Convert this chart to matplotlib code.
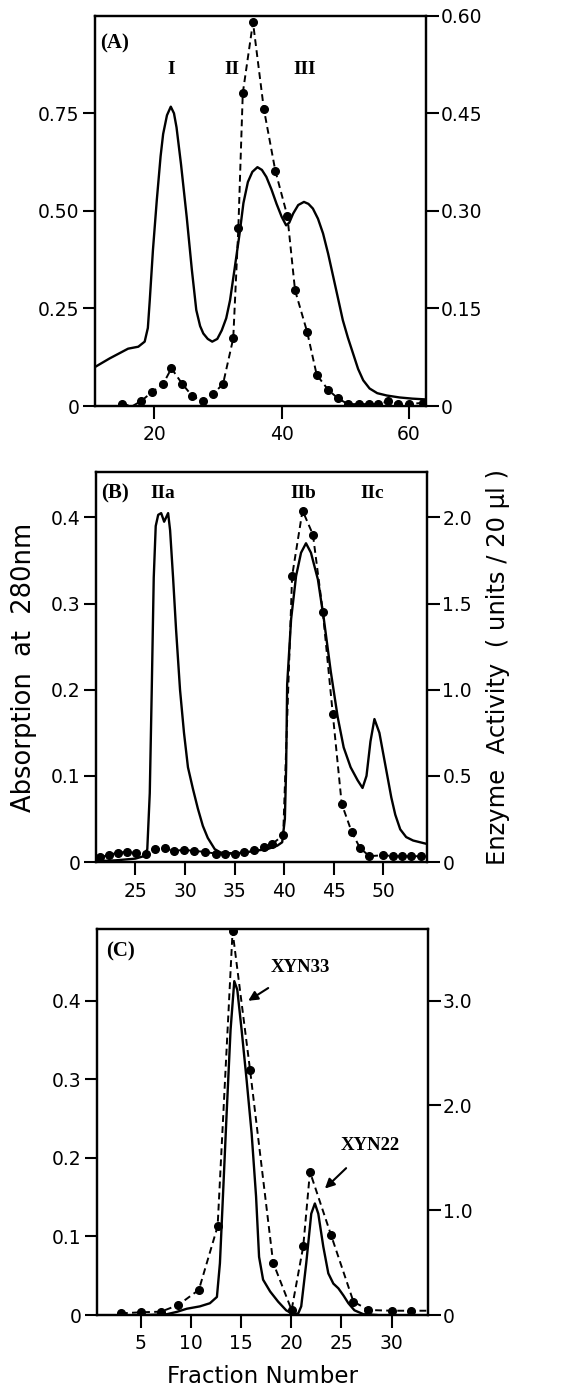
import matplotlib
matplotlib.use("Agg")
import matplotlib.pyplot as plt

# ---------------- Panel A data ----------------
a_abs_x = [10.7, 13.0, 15.9, 17.5, 18.5, 19.0, 19.3, 19.8, 20.4, 21.0, 21.4, 22.0, 22.6, 23.1, 23.5, 24.2,
           25.1, 25.9, 26.6, 27.2, 27.7, 28.4, 29.1, 29.9, 30.6, 31.3, 31.9, 32.6, 33.4, 34.0, 34.7,
           35.4, 36.2, 36.9, 37.6, 38.4, 39.2, 40.0, 40.7, 41.2, 41.8, 42.6, 43.5, 44.2, 44.9, 45.7,
           46.5, 47.3, 48.1, 48.9, 49.6, 50.4, 51.2, 52.0, 52.8, 53.8, 55.0, 56.5, 58.5, 60.5, 62.6]
a_abs_y = [0.100, 0.122, 0.147, 0.152, 0.165, 0.200, 0.271, 0.400, 0.527, 0.640, 0.697, 0.745, 0.767, 0.750, 0.714, 0.620,
           0.484, 0.350, 0.246, 0.205, 0.186, 0.172, 0.165, 0.172, 0.194, 0.225, 0.271, 0.350, 0.442, 0.520, 0.574,
           0.600, 0.612, 0.605, 0.587, 0.555, 0.518, 0.485, 0.463, 0.470, 0.493, 0.515, 0.523, 0.518, 0.506, 0.480,
           0.442, 0.390, 0.331, 0.272, 0.220, 0.175, 0.135, 0.095, 0.066, 0.045, 0.033, 0.027, 0.022, 0.019, 0.017]
a_act_x = [14.9, 16.6, 18.0, 19.7, 21.4, 22.7, 24.4, 26.0, 27.7, 29.3, 30.8, 32.4, 33.2, 33.9, 35.5, 37.2,
           39.0, 40.9, 42.1, 44.0, 45.5, 47.3, 48.8, 50.4, 52.1, 53.7, 55.1, 56.7, 58.2, 60.0, 62.2]
a_act_y = [0.003, 0.0, 0.008, 0.022, 0.034, 0.058, 0.034, 0.015, 0.007, 0.019, 0.034, 0.104, 0.273, 0.481, 0.590, 0.457,
           0.362, 0.292, 0.178, 0.114, 0.048, 0.025, 0.012, 0.003, 0.003, 0.003, 0.003, 0.007, 0.003, 0.003, 0.005]
a_act_markers = [0, 2, 3, 4, 5, 6, 7, 8, 9, 10, 11, 12, 13, 14, 15, 16, 17, 18, 19, 20, 21, 22, 23, 24, 25, 26, 27, 28, 29, 30]
a_xticks = [20, 40, 60]
a_left_ticks = [0, 0.25, 0.50, 0.75]
a_left_labels = ["0", "0.25", "0.50", "0.75"]
a_right_ticks = [0, 0.15, 0.30, 0.45, 0.60]
a_right_labels = ["0", "0.15", "0.30", "0.45", "0.60"]
a_peak_labels = ["I", "II", "III"]

# ---------------- Panel B data ----------------
b_abs_x = [21.1, 23.0, 25.0, 25.9, 26.2, 26.45, 26.65, 26.85, 27.05, 27.3, 27.6, 27.9, 28.1, 28.3, 28.5,
           28.8, 29.1, 29.5, 29.9, 30.3, 30.8, 31.3, 31.8, 32.3, 33.0, 33.6, 35.0, 36.0, 37.0, 38.3,
           39.3, 39.8, 40.07, 40.2, 40.3, 40.7, 41.2, 41.7, 42.2, 42.7, 43.4, 44.0, 44.7, 45.4, 46.0,
           46.7, 47.4, 47.9, 48.3, 48.7, 49.1, 49.6, 50.0, 50.4, 50.8, 51.2, 51.7, 52.3, 53.0, 54.4]
b_abs_y = [0.001, 0.002, 0.004, 0.007, 0.015, 0.08, 0.20, 0.33, 0.39, 0.403, 0.405, 0.395, 0.400, 0.405, 0.385,
           0.330, 0.270, 0.200, 0.150, 0.110, 0.085, 0.062, 0.042, 0.028, 0.015, 0.011, 0.010, 0.011, 0.013, 0.015,
           0.019, 0.023, 0.050, 0.110, 0.206, 0.282, 0.332, 0.359, 0.370, 0.359, 0.328, 0.282, 0.221, 0.168, 0.133,
           0.110, 0.095, 0.086, 0.100, 0.140, 0.166, 0.150, 0.125, 0.100, 0.075, 0.055, 0.038, 0.029, 0.025, 0.021]
b_act_x = [21.4, 22.3, 23.2, 24.2, 25.1, 26.1, 27.0, 28.0, 28.9, 29.9, 30.9, 32.0, 33.1, 34.0, 35.0, 36.0,
           37.0, 38.0, 38.8, 39.9, 40.8, 41.85, 42.9, 43.9, 44.9, 45.8, 46.8, 47.65, 48.6, 50.0, 51.0,
           51.9, 52.8, 53.8]
b_act_y = [0.028, 0.040, 0.055, 0.059, 0.055, 0.045, 0.075, 0.079, 0.065, 0.071, 0.065, 0.059, 0.049, 0.049, 0.049, 0.059,
           0.069, 0.089, 0.105, 0.156, 1.66, 2.04, 1.90, 1.45, 0.86, 0.338, 0.176, 0.081, 0.034, 0.040, 0.034,
           0.034, 0.034, 0.034]
b_xticks = [25, 30, 35, 40, 45, 50]
b_left_ticks = [0, 0.1, 0.2, 0.3, 0.4]
b_left_labels = ["0", "0.1", "0.2", "0.3", "0.4"]
b_right_ticks = [0, 0.5, 1.0, 1.5, 2.0]
b_right_labels = ["0", "0.5", "1.0", "1.5", "2.0"]
b_peak_labels = ["IIa", "IIb", "IIc"]

# ---------------- Panel C data ----------------
c_abs_x = [5.6, 7.6, 8.6, 9.6, 10.9, 11.9, 12.6, 12.9, 13.2, 13.57, 13.96, 14.33, 14.63, 15.06, 15.56,
           16.06, 16.5, 16.8, 17.2, 17.9, 18.7, 19.5, 20.2, 20.7, 21.0, 21.5, 22.0, 22.36, 22.7, 23.2,
           23.7, 24.2, 24.7, 25.2, 25.7, 26.3, 27.2, 28.5]
c_abs_y = [0.000, 0.001, 0.004, 0.008, 0.011, 0.015, 0.023, 0.066, 0.151, 0.257, 0.363, 0.425, 0.414, 0.363, 0.299,
           0.231, 0.151, 0.074, 0.045, 0.030, 0.017, 0.006, 0.001, 0.002, 0.011, 0.066, 0.129, 0.142, 0.129, 0.087,
           0.053, 0.040, 0.034, 0.025, 0.015, 0.006, 0.001, 0.000]
c_act_x = [3.04, 5.0, 7.03, 8.75, 10.8, 12.67, 14.16, 15.9, 18.2, 20.04, 21.2, 21.87, 23.96, 26.2, 27.7, 30.0, 31.9, 33.6]
c_act_y = [0.016, 0.026, 0.032, 0.096, 0.24, 0.846, 3.66, 2.34, 0.50, 0.048, 0.654, 1.366, 0.766, 0.128, 0.048, 0.041, 0.041, 0.041]
c_act_markers = list(range(17))
c_xticks = [5, 10, 15, 20, 25, 30]
c_left_ticks = [0, 0.1, 0.2, 0.3, 0.4]
c_left_labels = ["0", "0.1", "0.2", "0.3", "0.4"]
c_right_ticks = [0, 1.0, 2.0, 3.0]
c_right_labels = ["0", "1.0", "2.0", "3.0"]
c_annotations = ["XYN33", "XYN22"]

# ---------------- styling ----------------
plt.rcParams['font.family'] = ['DejaVu Sans']
SERIF = ['Liberation Serif', 'DejaVu Serif']
TICK_FS = 13.5
LW_SPINE = 1.6

fig = plt.figure(figsize=(5.67, 13.92), dpi=100)

def style(ax, ax2, xlim, xticks, lticks, llabels, lylim, rticks, rlabels, rylim):
    ax.set_xlim(*xlim)
    ax.set_ylim(*lylim)
    ax2.set_ylim(*rylim)
    ax.set_xticks(xticks)
    ax.set_xticklabels([str(t) for t in xticks])
    ax.set_yticks(lticks)
    ax.set_yticklabels(llabels)
    ax2.set_yticks(rticks)
    ax2.set_yticklabels(rlabels)
    for a in (ax, ax2):
        for s in a.spines.values():
            s.set_linewidth(LW_SPINE)
        a.tick_params(direction='out', length=9, width=1.5, labelsize=TICK_FS, pad=2)
    ax.tick_params(axis='x', pad=5)

def draw_solid(ax, x, y):
    ax.plot(x, y, color='black', lw=1.7, solid_joinstyle='round', zorder=3)

def draw_act(ax2, x, y, markevery=None):
    ax2.plot(x, y, color='black', lw=1.4, ls=(0, (3.5, 2.2)), marker='o', ms=5.5,
             markevery=markevery, zorder=4)

# ---------------- Panel A ----------------
axA = fig.add_axes([0.1675, 0.7083, 0.5832, 0.2804])
axA2 = axA.twinx()
draw_solid(axA, a_abs_x, a_abs_y)
draw_act(axA2, a_act_x, a_act_y, markevery=a_act_markers)
style(axA, axA2, (10.7, 62.6), a_xticks, a_left_ticks, a_left_labels, (0, 1.0),
      a_right_ticks, a_right_labels, (0, 0.6))
axA.text(0.015, 0.93, "(A)", transform=axA.transAxes, fontsize=15, fontweight='bold',
         family=SERIF, ha='left', va='center')
for lab, xf in zip(a_peak_labels, [0.229, 0.415, 0.635]):
    axA.text(xf, 0.861, lab, transform=axA.transAxes, fontsize=14, fontweight='bold',
             family=SERIF, ha='center', va='center')

# ---------------- Panel B ----------------
axB = fig.add_axes([0.1688, 0.3807, 0.5843, 0.2804])
axB2 = axB.twinx()
draw_solid(axB, b_abs_x, b_abs_y)
draw_act(axB2, b_act_x, b_act_y)
style(axB, axB2, (21.0, 54.4), b_xticks, b_left_ticks, b_left_labels, (0, 0.453),
      b_right_ticks, b_right_labels, (0, 2.265))
axB.text(0.015, 0.945, "(B)", transform=axB.transAxes, fontsize=15, fontweight='bold',
         family=SERIF, ha='left', va='center')
for lab, xf in zip(b_peak_labels, [0.201, 0.628, 0.834]):
    axB.text(xf, 0.945, lab, transform=axB.transAxes, fontsize=14, fontweight='bold',
             family=SERIF, ha='center', va='center')
axB.set_ylabel("Absorption  at  280nm", fontsize=18.5, labelpad=10)
axB2.set_ylabel("Enzyme  Activity  ( units / 20 µl )", fontsize=17.5, labelpad=10)

# ---------------- Panel C ----------------
axC = fig.add_axes([0.1705, 0.0553, 0.5838, 0.2771])
axC2 = axC.twinx()
draw_solid(axC, c_abs_x, c_abs_y)
draw_act(axC2, c_act_x, c_act_y, markevery=c_act_markers)
style(axC, axC2, (0.62, 33.6), c_xticks, c_left_ticks, c_left_labels, (0, 0.491),
      c_right_ticks, c_right_labels, (0, 3.68))
axC.text(0.03, 0.942, "(C)", transform=axC.transAxes, fontsize=15, fontweight='bold',
         family=SERIF, ha='left', va='center')
axC.annotate(c_annotations[0], xy=(15.72, 0.40), xytext=(20.87, 0.442), textcoords='data',
             fontsize=13.5, fontweight='bold', family=SERIF, ha='center', va='center',
             arrowprops=dict(arrowstyle='-|>', color='black', lw=1.5, shrinkA=12, shrinkB=0,
                             mutation_scale=14))
axC.annotate(c_annotations[1], xy=(23.36, 0.161), xytext=(27.84, 0.216), textcoords='data',
             fontsize=13.5, fontweight='bold', family=SERIF, ha='center', va='center',
             arrowprops=dict(arrowstyle='-|>', color='black', lw=1.5, shrinkA=12, shrinkB=0,
                             mutation_scale=14))
axC.set_xlabel("Fraction Number", fontsize=16.5, labelpad=8)

fig.savefig("out.png", dpi=100)
